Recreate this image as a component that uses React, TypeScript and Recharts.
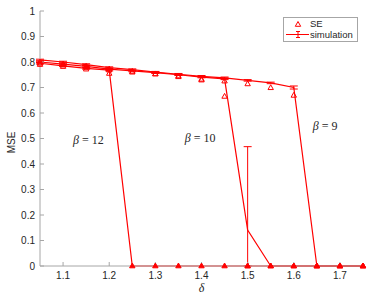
import { ComposedChart, ErrorBar, Legend, Line, ReferenceDot, XAxis, YAxis } from "recharts"

const RED = "#ff0000"

const delta = [1.05, 1.1, 1.15, 1.2, 1.25, 1.3, 1.35, 1.4, 1.45, 1.5, 1.55, 1.6, 1.65, 1.7, 1.75]

// simulation curves
const sim12 = [0.795, 0.785, 0.775, 0.768, 0, 0, 0, 0, 0, 0, 0, 0, 0, 0, 0]
const sim10 = [0.8, 0.792, 0.783, 0.772, 0.765, 0.758, 0.75, 0.741, 0.734, 0.141, 0, 0, 0, 0, 0]
const sim9 = [0.808, 0.8, 0.79, 0.778, 0.77, 0.76, 0.752, 0.744, 0.738, 0.728, 0.718, 0.7, 0, 0, 0]

// error bars [below, above]
const err12 = [0.003, 0.003, 0.003, 0.003, 0, 0, 0, 0, 0, 0, 0, 0, 0, 0, 0]
const err10 = [0.003, 0.003, 0.003, 0.003, 0.003, 0.003, 0.003, 0.003, 0.003, [0.141, 0.327], 0, 0, 0, 0, 0]
const err9 = [0.003, 0.003, 0.003, 0.003, 0.003, 0.003, 0.003, 0.003, 0.003, 0.003, 0.003, 0.006, 0, 0, 0]

// state evolution
const se12 = [0.79, 0.782, 0.772, 0.755, 0, 0, 0, 0, 0, 0, 0, 0, 0, 0, 0]
const se10 = [0.795, 0.788, 0.779, 0.768, 0.76, 0.753, 0.742, 0.729, 0.665, 0, 0, 0, 0, 0, 0]
const se9 = [0.8, 0.792, 0.783, 0.772, 0.763, 0.753, 0.745, 0.732, 0.725, 0.714, 0.699, 0.669, 0, 0, 0]

const xTicks = [1.1, 1.2, 1.3, 1.4, 1.5, 1.6, 1.7]
const yTicks = [0, 0.1, 0.2, 0.3, 0.4, 0.5, 0.6, 0.7, 0.8, 0.9, 1]

const annotations = [
  { beta: "12", x: 1.155, y: 0.494 },
  { beta: "10", x: 1.397, y: 0.502 },
  { beta: "9", x: 1.668, y: 0.549 },
]

const data = delta.map((d, i) => ({
  delta: d,
  sim12: sim12[i],
  sim10: sim10[i],
  sim9: sim9[i],
  err12: err12[i],
  err10: err10[i],
  err9: err9[i],
  se12: se12[i],
  se10: se10[i],
  se9: se9[i],
}))

const AXIS = "#a6a6a6"
const TEXT = "#262626"
const SANS = "'Liberation Sans', Arial, sans-serif"
const SERIF = "'Liberation Serif', 'DejaVu Serif', serif"

function Triangle(props: any) {
  const { cx, cy, value, index } = props
  if (value == null || cx == null || cy == null) return <g key={index} />
  const filled = value === 0
  return (
    <polygon
      key={index}
      points={`${cx},${cy - 3} ${cx - 2.7},${cy + 1.8} ${cx + 2.7},${cy + 1.8}`}
      fill={filled ? RED : "none"}
      stroke={RED}
      strokeWidth={1}
    />
  )
}

function LegendBox() {
  return (
    <div
      style={{
        width: 75,
        height: 25,
        boxSizing: "border-box",
        border: `1px solid ${AXIS}`,
        background: "#fff",
        position: "relative",
      }}
    >
      <svg width={75} height={25} style={{ position: "absolute", left: -1, top: -1 }}>
        <polygon points="15,4.5 12.3,9.3 17.7,9.3" fill="none" stroke={RED} strokeWidth={1} />
        <line x1={3} y1={17.5} x2={26} y2={17.5} stroke={RED} strokeWidth={1} />
        <line x1={15} y1={14.5} x2={15} y2={20.5} stroke={RED} strokeWidth={1} />
        <line x1={13} y1={14.5} x2={17} y2={14.5} stroke={RED} strokeWidth={1} />
        <line x1={13} y1={20.5} x2={17} y2={20.5} stroke={RED} strokeWidth={1} />
        <text x={27} y={10} fontFamily={SANS} fontSize={9.5} fill={TEXT}>SE</text>
        <text x={27} y={20.5} fontFamily={SANS} fontSize={9.5} fill={TEXT}>simulation</text>
      </svg>
    </div>
  )
}

function BetaLabel(beta: string) {
  return (props: any) => {
    const vb = props.viewBox || {}
    const cx = (vb.x ?? 0) + (vb.width ?? 0) / 2
    const cy = (vb.y ?? 0) + (vb.height ?? 0) / 2
    return (
      <text x={cx} y={cy + 4} textAnchor="middle" fontFamily={SERIF} fontSize={12} fill={TEXT}>
        <tspan fontStyle="italic">β</tspan>
        <tspan> = {beta}</tspan>
      </text>
    )
  }
}

export default function App() {
  const tickStyle = { fontFamily: SANS, fontSize: 10, fill: TEXT }
  return (
    <div style={{ position: "absolute", left: 0, top: 0, width: 374, height: 298, background: "#fff" }}>
      <ComposedChart width={374} height={298} data={data} margin={{ top: 11, right: 11, bottom: 0, left: 0 }}>
        <XAxis
          dataKey="delta"
          type="number"
          domain={[1.05, 1.75]}
          ticks={xTicks}
          height={32}
          stroke={AXIS}
          tickSize={-4}
          tickMargin={10}
          tick={tickStyle}
          label={{
            content: (p: any) => {
              const vb = p.viewBox || {}
              return (
                <text x={vb.x + vb.width / 2} y={292} textAnchor="middle" fontFamily={SERIF} fontStyle="italic" fontSize={12} fill={TEXT}>
                  δ
                </text>
              )
            },
          }}
        />
        <XAxis
          xAxisId="top"
          orientation="top"
          type="number"
          domain={[1.05, 1.75]}
          ticks={xTicks}
          height={0}
          stroke={AXIS}
          tickSize={-4}
          tickFormatter={() => ""}
        />
        <YAxis
          type="number"
          domain={[0, 1]}
          ticks={yTicks}
          width={40}
          stroke={AXIS}
          tickSize={-4}
          tickMargin={9}
          tick={tickStyle}
          label={{
            content: (p: any) => {
              const vb = p.viewBox || {}
              const y = vb.y + vb.height / 2 + 4
              return (
                <text x={15} y={y} transform={`rotate(-90 15 ${y})`} textAnchor="middle" fontFamily={SANS} fontSize={10} fill={TEXT}>
                  MSE
                </text>
              )
            },
          }}
        />
        <YAxis
          yAxisId="right"
          orientation="right"
          type="number"
          domain={[0, 1]}
          ticks={yTicks}
          width={0}
          stroke={AXIS}
          tickSize={-4}
          tickFormatter={() => ""}
        />

        <Line dataKey="sim12" stroke={RED} strokeWidth={1.2} dot={false} activeDot={false} isAnimationActive={false}>
          <ErrorBar dataKey="err12" width={4} stroke={RED} strokeWidth={1} direction="y" />
        </Line>
        <Line dataKey="sim10" stroke={RED} strokeWidth={1.2} dot={false} activeDot={false} isAnimationActive={false}>
          <ErrorBar dataKey="err10" width={4} stroke={RED} strokeWidth={1} direction="y" />
        </Line>
        <Line dataKey="sim9" stroke={RED} strokeWidth={1.2} dot={false} activeDot={false} isAnimationActive={false}>
          <ErrorBar dataKey="err9" width={4} stroke={RED} strokeWidth={1} direction="y" />
        </Line>

        <Line dataKey="se12" stroke="none" dot={Triangle} activeDot={false} isAnimationActive={false} />
        <Line dataKey="se10" stroke="none" dot={Triangle} activeDot={false} isAnimationActive={false} />
        <Line dataKey="se9" stroke="none" dot={Triangle} activeDot={false} isAnimationActive={false} />

        {annotations.map((a) => (
          <ReferenceDot
            key={a.beta}
            x={a.x}
            y={a.y}
            r={0}
            fill="none"
            stroke="none"
            label={{ content: BetaLabel(a.beta) }}
          />
        ))}

        <Legend
          layout="horizontal"
          verticalAlign="middle"
          align="center"
          wrapperStyle={{ left: 283, top: 17, width: 75, height: 25 }}
          content={() => <LegendBox />}
        />
      </ComposedChart>
    </div>
  )
}
